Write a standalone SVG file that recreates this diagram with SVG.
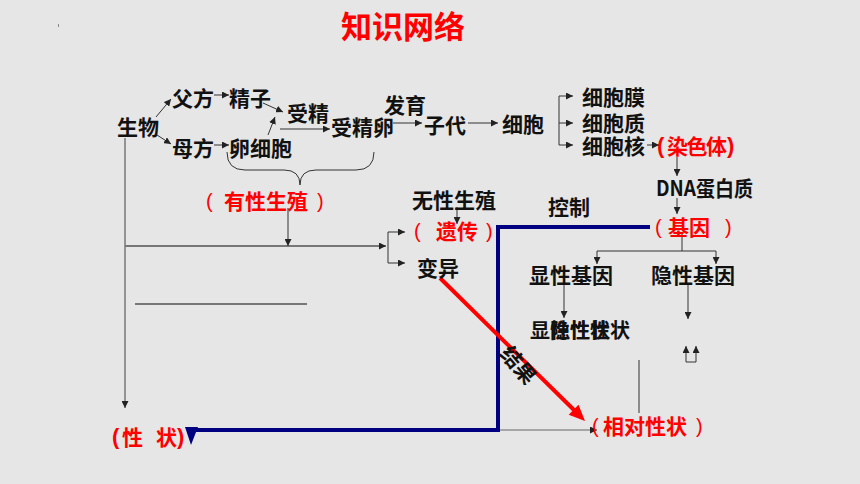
<svg xmlns="http://www.w3.org/2000/svg" width="860" height="484" viewBox="0 0 860 484">
<defs>
<style>
.t{font-family:"Noto Sans CJK SC","Noto Sans",sans-serif;font-size:21px;font-weight:bold;fill:#111}
.r{fill:#ff0000}
.p{font-family:"Liberation Sans",sans-serif;font-size:20px;fill:#ff0000}
.pb{font-family:"Liberation Sans",sans-serif;font-size:22px;font-weight:bold;fill:#ff0000}
.ln{stroke:#333;stroke-width:1;fill:none}
.lg{stroke:#777;stroke-width:2;fill:none}
</style>
<marker id="a" viewBox="0 0 10 10" refX="10" refY="5" markerWidth="7" markerHeight="7" markerUnits="userSpaceOnUse" orient="auto"><path d="M0,0 L10,5 L0,10z" fill="#222"/></marker>
</defs>
<rect width="860" height="484" fill="#e6e6e6"/>
<rect x="58" y="24" width="1" height="3" fill="#888"/>
<g id="title"><text class="t r" x="341" y="38" style="font-size:31px">知识网络</text></g>

<g id="connectors">
<line class="ln" x1="156" y1="117" x2="171" y2="99" marker-end="url(#a)"/>
<line class="ln" x1="157" y1="135" x2="171" y2="144" marker-end="url(#a)"/>
<line class="ln" x1="214" y1="95" x2="229" y2="95" marker-end="url(#a)"/>
<line class="ln" x1="214" y1="145" x2="229" y2="145" marker-end="url(#a)"/>
<line class="ln" x1="263" y1="103" x2="283" y2="112" marker-end="url(#a)"/>
<line class="ln" x1="268" y1="135" x2="275" y2="117" marker-end="url(#a)"/>
<line class="ln" x1="280" y1="129" x2="330" y2="129" marker-end="url(#a)"/>
<line class="ln" x1="393" y1="123" x2="422" y2="123" marker-end="url(#a)"/>
<line class="ln" x1="468" y1="123" x2="498" y2="123" marker-end="url(#a)"/>
<path class="ln" d="M559,96 L559,145"/>
<line class="ln" x1="559" y1="96" x2="573" y2="96" marker-end="url(#a)"/>
<line class="ln" x1="559" y1="123" x2="573" y2="123" marker-end="url(#a)"/>
<line class="ln" x1="559" y1="145" x2="573" y2="145" marker-end="url(#a)"/>
<line class="ln" x1="647" y1="145" x2="659" y2="145" marker-end="url(#a)"/>
<line class="ln" x1="677" y1="157" x2="677" y2="176" marker-end="url(#a)"/>
<line class="ln" x1="677" y1="198" x2="677" y2="214" marker-end="url(#a)"/>
<path class="ln" d="M682,233 L682,251 M597,251 L716,251"/>
<line class="ln" x1="597" y1="251" x2="597" y2="264" marker-end="url(#a)"/>
<line class="ln" x1="716" y1="251" x2="716" y2="264" marker-end="url(#a)"/>
<line class="ln" x1="564" y1="285" x2="564" y2="318" marker-end="url(#a)"/>
<line class="ln" x1="688" y1="285" x2="688" y2="319" marker-end="url(#a)"/>
<path class="ln" d="M686,362 L696,362"/>
<line class="ln" x1="686" y1="362" x2="686" y2="346" marker-end="url(#a)"/>
<line class="ln" x1="696" y1="362" x2="696" y2="346" marker-end="url(#a)"/>
<line class="ln" x1="639" y1="360" x2="639" y2="413"/>
<line x1="497" y1="430" x2="597" y2="430" stroke="#666" stroke-width="1" marker-end="url(#a)"/>
<path class="ln" d="M227,152 Q227,170 245,170 L284,170 Q300,170 300,185 Q300,170 316,170 L356,170 Q374,170 374,152"/>
<line class="lg" x1="125" y1="246" x2="386" y2="246" marker-end="url(#a)"/>
<line x1="125" y1="138" x2="125" y2="408" stroke="#777" stroke-width="1.5" marker-end="url(#a)"/>
<line class="ln" x1="288" y1="208" x2="288" y2="246" marker-end="url(#a)"/>
<path class="ln" d="M388,232 L388,263"/>
<line class="ln" x1="388" y1="232" x2="405" y2="232" marker-end="url(#a)"/>
<line class="ln" x1="388" y1="263" x2="405" y2="263" marker-end="url(#a)"/>
<line class="ln" x1="457" y1="207" x2="457" y2="224" marker-end="url(#a)"/>
<line class="lg" x1="135" y1="304" x2="307" y2="304"/>
<polyline points="650,227 498,227 498,430 196,430" fill="none" stroke="#000080" stroke-width="4"/>
<polygon points="185,427 198,427 191,445" fill="#000080"/>
<line x1="440" y1="278" x2="574" y2="410" stroke="#ff0000" stroke-width="4"/>
<polygon points="585,421 568.7,414.8 578.5,404.8" fill="#ff0000"/>
</g>

<g id="n-shengwu"><text class="t" x="117" y="135">生物</text></g>
<g id="n-fufang"><text class="t" x="172" y="106">父方</text></g>
<g id="n-jingzi"><text class="t" x="229" y="106">精子</text></g>
<g id="n-shoujing"><text class="t" x="287" y="121">受精</text></g>
<g id="n-shoujingluan"><text class="t" x="331" y="135">受精卵</text></g>
<g id="n-fayu"><text class="t" x="384" y="113">发育</text></g>
<g id="n-zidai"><text class="t" x="424" y="133">子代</text></g>
<g id="n-xibao"><text class="t" x="502" y="132">细胞</text></g>
<g id="n-xibaomo"><text class="t" x="582" y="105">细胞膜</text></g>
<g id="n-xibaozhi"><text class="t" x="582" y="131">细胞质</text></g>
<g id="n-xibaohe"><text class="t" x="582" y="154">细胞核</text></g>
<g id="n-ranseti"><text class="pb" x="657" y="153">(</text><text class="t r" x="667" y="154" textLength="60">染色体</text><text class="pb" x="727" y="153">)</text></g>
<g id="n-dna"><text class="t" x="656" y="196" textLength="97" lengthAdjust="spacingAndGlyphs">DNA蛋白质</text></g>
<g id="n-mufang"><text class="t" x="172" y="156">母方</text></g>
<g id="n-luanxibao"><text class="t" x="229" y="156">卵细胞</text></g>
<g id="n-youxing"><text class="p" x="206" y="208">(</text><text class="t r" x="224" y="209">有性生殖</text><text class="p" x="317" y="208">)</text></g>
<g id="n-wuxing"><text class="t" x="412" y="208">无性生殖</text></g>
<g id="n-yichuan"><text class="p" x="414" y="238">(</text><text class="t r" x="436" y="239">遗传</text><text class="p" x="486" y="238">)</text></g>
<g id="n-kongzhi"><text class="t" x="548" y="215">控制</text></g>
<g id="n-jiyin"><text class="p" x="655" y="234">(</text><text class="t r" x="668" y="235">基因</text><text class="p" x="725" y="234">)</text></g>
<g id="n-bianyi"><text class="t" x="417" y="276">变异</text></g>
<g id="n-xianxing"><text class="t" x="529" y="283">显性基因</text></g>
<g id="n-yinxing"><text class="t" x="651" y="283">隐性基因</text></g>
<g id="n-xingzhuang2"><text class="t" x="530" y="338" style="font-size:20px">显性性状</text><text class="t" x="550" y="338" style="font-size:20px">隐性性状</text></g>
<g id="n-jieguo"><text class="t" x="0" y="0" transform="translate(499,354) rotate(50)">结果</text></g>
<g id="n-xiangdui"><text class="p" x="592" y="433">(</text><text class="t r" x="603" y="434">相对性状</text><text class="p" x="696" y="433">)</text></g>
<g id="n-xingzhuang"><text class="pb" x="112" y="444">(</text><text class="t r" x="122" y="445">性</text><text class="t r" x="156" y="445">状</text><text class="pb" x="177" y="444">)</text></g>
</svg>
